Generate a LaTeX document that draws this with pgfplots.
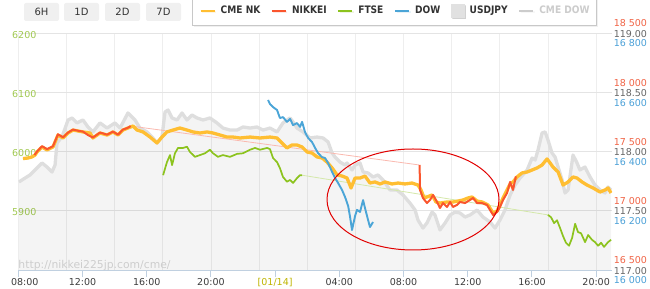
\documentclass[border=0pt]{standalone}
\usepackage{fontspec}
\setmainfont{DejaVu Sans}
\newfontfamily\legfont{DejaVu Sans}[FakeStretch=0.88]
\usepackage{pgfplots}
\usepackage{pgfplotstable}
\pgfplotsset{compat=1.18}
\usetikzlibrary{shadows}

\definecolor{cmenk}{RGB}{255,190,50}
\definecolor{nikkei}{RGB}{250,85,45}
\definecolor{nikpale}{RGB}{250,185,175}
\definecolor{ftse}{RGB}{140,195,30}
\definecolor{ftsepale}{RGB}{212,232,170}
\definecolor{dow}{RGB}{75,165,215}
\definecolor{jpyline}{RGB}{222,222,222}
\definecolor{jpyleg}{RGB}{225,225,225}
\definecolor{cmedowleg}{RGB}{204,204,204}
\definecolor{axiscol}{RGB}{192,208,224}
\definecolor{hgrid}{RGB}{228,228,228}
\definecolor{vgrid}{RGB}{238,238,238}
\definecolor{leftlab}{RGB}{160,200,80}
\definecolor{nklab}{RGB}{240,100,70}
\definecolor{jpylab}{RGB}{102,102,102}
\definecolor{dowlab}{RGB}{75,160,215}
\definecolor{datecol}{RGB}{190,180,0}
\definecolor{ticktext}{RGB}{60,60,60}
\definecolor{wmcol}{RGB}{205,205,205}
\definecolor{btnfill}{RGB}{240,240,240}
\definecolor{legtext}{RGB}{51,51,51}
\definecolor{legdis}{RGB}{204,204,204}
\definecolor{legborder}{RGB}{200,200,200}
\definecolor{ellcol}{RGB}{225,0,0}

\newcommand\ticksize{\fontsize{9.5bp}{11bp}\selectfont}

% USDJPY (hours after 08:00 of day 1, yen)
\pgfplotstableread{
h v
0.04 117.743
0.42 117.776
0.73 117.802
1.17 117.861
1.48 117.903
1.79 117.869
2.10 117.827
2.29 117.886
2.41 118.072
2.72 118.122
3.10 118.266
3.35 118.283
3.66 118.241
4.03 118.266
4.34 118.207
4.65 118.165
5.09 118.241
5.53 118.198
6.02 118.241
6.34 118.198
6.83 118.325
6.96 118.308
7.27 118.266
7.58 118.198
8.02 118.165
8.39 118.114
8.64 118.072
8.95 118.122
9.14 118.333
9.33 118.350
9.58 118.283
9.89 118.266
10.20 118.325
10.51 118.266
10.82 118.308
11.13 118.283
11.51 118.266
11.94 118.283
12.38 118.241
12.75 118.198
13.19 118.181
13.63 118.181
14.00 118.207
14.44 118.198
14.87 118.207
15.25 118.181
15.68 118.198
16.12 118.165
16.49 118.241
16.93 118.283
17.12 118.249
17.36 118.198
17.74 118.165
18.17 118.114
18.61 118.122
18.99 118.114
19.30 118.080
19.55 117.987
19.73 117.954
20.04 117.911
20.36 117.886
20.48 117.903
20.79 117.844
20.98 117.886
21.29 117.903
21.48 117.827
21.79 117.819
22.10 117.785
22.41 117.802
22.72 117.760
23.16 117.675
23.59 117.675
23.97 117.633
24.40 117.565
24.72 117.506
24.90 117.422
25.21 117.354
25.46 117.397
25.78 117.489
25.96 117.464
26.27 117.338
26.59 117.397
26.90 117.464
27.21 117.489
27.52 117.481
27.83 117.447
28.14 117.464
28.58 117.506
28.95 117.447
29.39 117.405
29.70 117.354
30.01 117.422
30.32 117.506
30.64 117.633
30.95 117.717
31.26 117.776
31.70 117.844
32.01 117.945
32.20 117.928
32.38 118.013
32.63 118.156
32.82 118.165
33.00 118.097
33.25 117.987
33.44 117.954
33.63 117.869
33.88 117.760
34.06 117.650
34.25 117.675
34.56 117.970
34.81 117.903
34.99 117.844
35.30 117.869
35.62 117.785
35.93 117.717
36.24 117.675
36.55 117.650
36.74 117.700
36.93 117.675
}\jpy

% CME Nikkei futures
\pgfplotstableread{
h v
0.29 17440
0.60 17445
0.85 17454
1.04 17470
1.17 17496
1.48 17538
1.79 17513
2.16 17538
2.47 17639
2.79 17614
3.10 17656
3.41 17681
3.72 17673
4.03 17665
4.47 17656
4.65 17614
5.09 17656
5.53 17639
5.90 17665
6.21 17639
6.52 17681
6.83 17698
7.15 17715
7.40 17681
7.77 17665
8.21 17622
8.64 17572
8.95 17622
9.26 17665
9.64 17681
10.07 17698
10.51 17681
10.89 17665
11.32 17656
11.76 17665
12.13 17656
12.57 17639
13.00 17622
13.38 17622
13.81 17614
14.44 17622
15.06 17614
15.68 17622
16.12 17614
16.43 17572
16.74 17530
17.05 17555
17.36 17555
17.68 17538
17.99 17496
18.30 17487
18.61 17454
18.93 17445
19.23 17411
19.55 17361
19.86 17302
20.17 17293
20.48 17276
20.73 17192
20.98 17276
21.29 17276
21.60 17293
21.91 17234
22.22 17243
22.54 17226
22.85 17243
23.28 17226
23.66 17234
24.09 17226
24.53 17234
24.90 17217
25.09 17175
25.28 17108
25.46 17116
25.78 17133
26.02 17074
26.27 17065
26.71 17074
27.08 17074
27.40 17082
27.71 17091
28.02 17108
28.27 17116
28.58 17082
28.89 17074
29.26 17049
29.58 16981
29.83 16998
30.01 17049
30.20 17108
30.45 17175
30.64 17226
30.82 17243
31.07 17285
31.38 17319
31.70 17327
32.01 17344
32.32 17361
32.63 17386
32.94 17437
33.13 17403
33.31 17369
33.63 17327
33.94 17217
34.25 17243
34.56 17285
34.81 17276
35.12 17243
35.43 17217
35.81 17192
36.24 17158
36.55 17175
36.74 17192
36.93 17150
}\cmenk

% Nikkei 225, day 1 session
\pgfplotstableread{
h v
1.01 17470
1.17 17500
1.48 17545
1.79 17520
2.16 17545
2.47 17645
2.79 17620
3.10 17660
3.41 17685
3.72 17675
4.03 17668
4.34 17639
4.65 17618
5.09 17660
5.53 17642
5.90 17668
6.21 17642
6.52 17685
6.83 17700
7.00 17715
}\nikA

% Nikkei 225, gap between sessions
\pgfplotstableread{
h v
7.00 17715
25.00 17386
}\nikgap

% Nikkei 225, day 2 session
\pgfplotstableread{
h v
25.00 17386
25.03 17175
25.21 17108
25.46 17065
25.65 17091
25.84 17133
26.09 17074
26.27 17023
26.46 17065
26.71 17032
26.90 17074
27.08 17032
27.33 17049
27.52 17074
27.83 17065
28.14 17091
28.33 17108
28.58 17065
28.89 17065
29.20 17049
29.39 17006
29.58 16964
29.83 16990
30.01 17032
30.20 17091
30.45 17150
30.64 17243
30.82 17175
31.00 17290
}\nikB

% FTSE 100
\pgfplotstableread{
h v
9.02 5960
9.26 5982
9.45 5994
9.58 5977
9.76 5997
9.95 6006
10.26 6006
10.51 6008
10.70 5999
11.01 5991
11.32 5994
11.63 5997
11.94 6003
12.13 5997
12.44 5991
12.75 5994
13.19 5991
13.63 5996
14.00 5997
14.44 6003
14.75 6006
15.06 6003
15.50 6006
15.68 6004
15.87 5989
16.12 5982
16.30 5972
16.49 5957
16.74 5949
16.93 5952
17.12 5947
17.36 5955
17.55 5960
17.68 5960
}\ftseA

\pgfplotstableread{
h v
17.68 5960
33.00 5893
}\ftsegap

\pgfplotstableread{
h v
33.00 5893
33.19 5889
33.38 5879
33.56 5884
33.75 5871
33.94 5857
34.12 5846
34.31 5841
34.50 5854
34.69 5878
34.87 5864
35.06 5862
35.31 5847
35.50 5859
35.74 5851
35.93 5847
36.12 5841
36.31 5846
36.49 5839
36.74 5847
36.93 5851
}\ftseB

% Dow Jones
\pgfplotstableread{
h v
15.56 16574
15.68 16560
15.87 16550
16.12 16540
16.30 16513
16.49 16516
16.74 16500
16.93 16510
17.12 16489
17.36 16496
17.55 16483
17.68 16500
17.86 16466
18.05 16446
18.30 16432
18.49 16412
18.67 16395
18.92 16381
19.11 16378
19.30 16361
19.55 16331
19.73 16311
19.92 16294
20.17 16270
20.36 16246
20.55 16216
20.67 16179
20.79 16135
20.98 16182
21.10 16203
21.29 16196
21.48 16236
21.60 16209
21.79 16169
21.91 16145
22.10 16162
}\dowt

\pgfplotsset{
  sharedgeom/.style={width=593.9bp, height=237bp, scale only axis,
    at={(18.3bp,19bp)}, anchor=south west, xmin=0, xmax=37,
    scaled ticks=false},
  rightaxis/.style={sharedgeom, hide x axis, axis y line*=right,
    y axis line style={draw=none}, ytick style={draw=none},
    major tick length=0bp, scaled y ticks=false},
}

\begin{document}
\begin{tikzpicture}
\path[use as bounding box] (0,0) rectangle (650bp,289bp);

% main axis: grid, time axis, FTSE scale, legend
\begin{axis}[sharedgeom,
  ymin=5800, ymax=6200,
  axis x line*=bottom, axis y line*=left,
  x axis line style={draw=axiscol, line width=1bp, -},
  y axis line style={draw=none},
  tick align=outside,
  major tick length=7bp,
  minor tick length=0bp,
  xtick={0,4,...,36},
  xticklabels={{\hspace{13bp}08:00},12:00,16:00,20:00,{\textcolor{datecol}{[01/14]}},04:00,08:00,12:00,16:00,{20:00\hspace{9bp}}},
  minor xtick={0,3,...,36},
  xminorgrids=true, xmajorgrids=false, ymajorgrids=true,
  ytick={5900,6000,6100,6200},
  yticklabels={5900,6000,6100,6200},
  xtick style={draw=axiscol, line width=1bp},
  ytick style={draw=none},
  major grid style={draw=hgrid, line width=0.8bp},
  minor grid style={draw=vgrid, line width=0.8bp},
  xticklabel style={font=\ticksize, text=ticktext, inner sep=0pt, yshift=-1.5bp},
  yticklabel style={font=\ticksize, text=leftlab, anchor=west, inner sep=0pt, xshift=0.7bp, yshift=-1.7bp},
  legend columns=6,
  legend image code/.code={\draw (0bp,0bp) -- (14bp,0bp);},
  legend style={at={(axis description cs:0.9744,1.0295)}, anchor=south east,
    draw=legborder, line width=0.8bp, fill=white,
    inner xsep=7bp, inner ysep=8bp,
    font=\legfont\bfseries\fontsize{10.3bp}{12bp}\selectfont, text=legtext,
    nodes={inner sep=0pt},
    /tikz/every even column/.append style={column sep=10.5bp},
    /tikz/every odd column/.append style={column sep=5bp},
    drop shadow={shadow xshift=1.5bp, shadow yshift=-1.5bp, opacity=0.12}},
]
\addlegendimage{line width=2.4bp, color=cmenk}
\addlegendentry{CME NK}
\addlegendimage{line width=2.2bp, color=nikkei}
\addlegendentry{NIKKEI}
\addlegendimage{line width=2.2bp, color=ftse}
\addlegendentry{FTSE}
\addlegendimage{line width=2.2bp, color=dow}
\addlegendentry{DOW}
\addlegendimage{legend image code/.code={\fill[jpyleg] (0bp,-6.5bp) rectangle (13bp,6.5bp);}}
\addlegendentry{USDJPY}
\addlegendimage{line width=2.2bp, color=cmedowleg}
\addlegendentry{\textcolor{legdis}{CME DOW}}
\end{axis}

% USDJPY axis
\begin{axis}[rightaxis, ymin=117, ymax=119,
  ytick={117,117.5,118,118.5,119},
  yticklabels={117.00,117.50,118.00,118.50,119.00},
  yticklabel style={font=\ticksize, text=jpylab, anchor=east, inner sep=0pt, xshift=35bp, yshift=-0.7bp}]
\addplot[draw=none, fill=black, fill opacity=0.045] table[x=h, y=v] {\jpy} \closedcycle;
\addplot[draw=jpyline, line width=3.3bp, line join=round] table[x=h, y=v] {\jpy};
\end{axis}

% FTSE series
\begin{axis}[sharedgeom, hide axis, ymin=5800, ymax=6200]
\addplot[draw=ftsepale, line width=0.8bp] table[x=h, y=v] {\ftsegap};
\addplot[draw=ftse, line width=1.7bp, line join=round] table[x=h, y=v] {\ftseA};
\addplot[draw=ftse, line width=1.7bp, line join=round] table[x=h, y=v] {\ftseB};
\end{axis}

% Nikkei axis
\begin{axis}[rightaxis, ymin=16500, ymax=18500,
  ytick={16500,17000,17500,18000,18500},
  yticklabels={16 500,17 000,17 500,18 000,18 500},
  yticklabel style={font=\ticksize, text=nklab, anchor=east, inner sep=0pt, xshift=35bp, yshift=9.5bp}]
\addplot[draw=nikpale, line width=0.8bp] table[x=h, y=v] {\nikgap};
\addplot[draw=cmenk, line width=3.3bp, line join=round] table[x=h, y=v] {\cmenk};
\addplot[draw=nikkei, line width=2bp, line join=round] table[x=h, y=v] {\nikA};
\addplot[draw=nikkei, line width=2bp, line join=round] table[x=h, y=v] {\nikB};
\end{axis}

% Dow axis
\begin{axis}[rightaxis, ymin=16000, ymax=16800,
  ytick={16000,16200,16400,16600,16800},
  yticklabels={16 000,16 200,16 400,16 600,16 800},
  yticklabel style={font=\ticksize, text=dowlab, anchor=east, inner sep=0pt, xshift=35bp, yshift=-10.5bp}]
\addplot[draw=dow, line width=1.9bp, line join=round] table[x=h, y=v] {\dowt};
\draw[ellcol, line width=1bp] (axis cs:24.59,16238) ellipse [x radius=86bp, y radius=50.5bp];
\end{axis}

% range buttons
\foreach \lab/\xa/\xb/\xc in {6H/24/59/41.5, 1D/64/99/81.5, 2D/105/140/122.5, 7D/146/181/163.5} {
  \fill[btnfill, rounded corners=2bp] (\xa bp,268bp) rectangle (\xb bp,286bp);
  \node[text=legtext, font=\fontsize{10bp}{12bp}\selectfont, inner sep=0pt] at (\xc bp,277bp) {\lab};
}

% watermark
\node[anchor=base west, inner sep=0pt, text=wmcol, font=\fontsize{10.8bp}{12bp}\selectfont] at (18.3bp,21bp) {http://nikkei225jp.com/cme/};
\end{tikzpicture}
\end{document}
